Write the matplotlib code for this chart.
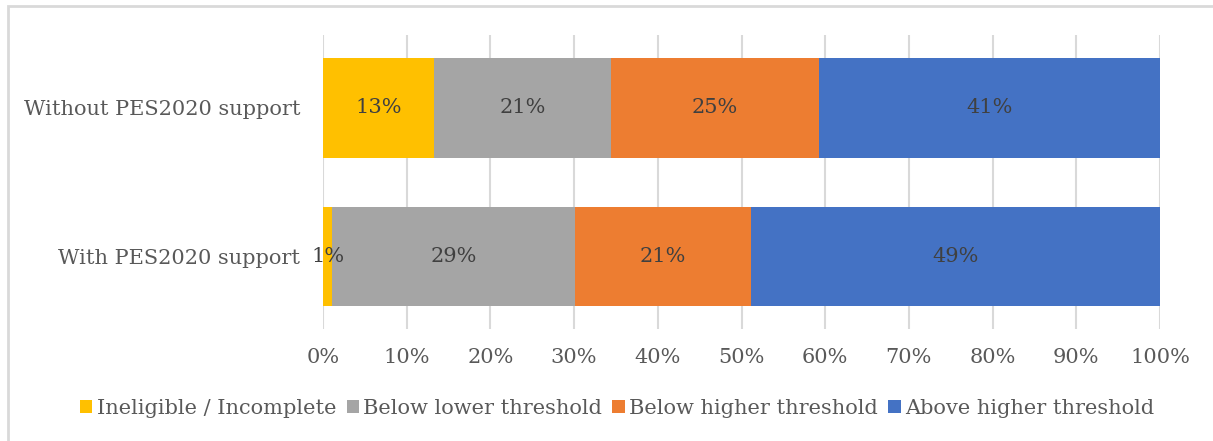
import numpy as np
import matplotlib.pyplot as plt
from matplotlib.patches import Rectangle

categories = ['With PES2020 support', 'Without PES2020 support']
series = ['Ineligible / Incomplete', 'Below lower threshold',
          'Below higher threshold', 'Above higher threshold']
# shares in %, row order follows categories
values = np.array([
    [1.1, 29.0, 21.0, 48.9],
    [13.3, 21.1, 24.8, 40.8],
])
labels = [['1%', '29%', '21%', '49%'],
          ['13%', '21%', '25%', '41%']]
colors = ['#ffc000', '#a5a5a5', '#ed7d31', '#4472c4']

plt.rcParams['font.family'] = ['DejaVu Serif']
txt = '#595959'

fig = plt.figure(figsize=(12.13, 4.41), dpi=100)
fig.patches.append(Rectangle((8 / 1213, -0.1), 1.2, 1 - 6 / 441 + 0.1,
                             transform=fig.transFigure, fill=False,
                             edgecolor='#d9d9d9', lw=2))
ax = fig.add_axes([323 / 1213, 1 - 329 / 441, 837 / 1213, 294 / 441])

y = np.arange(len(categories))
left = np.zeros(len(categories))
for j in range(len(series)):
    ax.barh(y, values[:, j], left=left, height=0.67, color=colors[j],
            label=series[j], zorder=3)
    for i in range(len(categories)):
        ax.text(left[i] + values[i, j] / 2, y[i], labels[i][j],
                ha='center', va='center', color='#404040', fontsize=15,
                zorder=4)
    left += values[:, j]

ax.set_xlim(0, 100)
ax.set_ylim(-0.49, 1.49)
ax.set_xticks(np.arange(0, 101, 10))
ax.set_xticklabels([f'{v}%' for v in range(0, 101, 10)])
ax.set_yticks(y)
ax.set_yticklabels(categories)
ax.grid(axis='x', color='#d9d9d9', lw=1.5, zorder=0)
ax.tick_params(length=0, labelsize=15, colors=txt)
ax.tick_params(axis='x', pad=14)
ax.tick_params(axis='y', pad=16.5)
for s in ax.spines.values():
    s.set_visible(False)

fig.legend(loc='center', bbox_to_anchor=(617 / 1213, 1 - 408 / 441), ncol=4,
           frameon=False, fontsize=15, labelcolor=txt, handlelength=0.6,
           handleheight=0.6, handletextpad=0.2, columnspacing=0.5)

fig.savefig('out.png', dpi=100)
